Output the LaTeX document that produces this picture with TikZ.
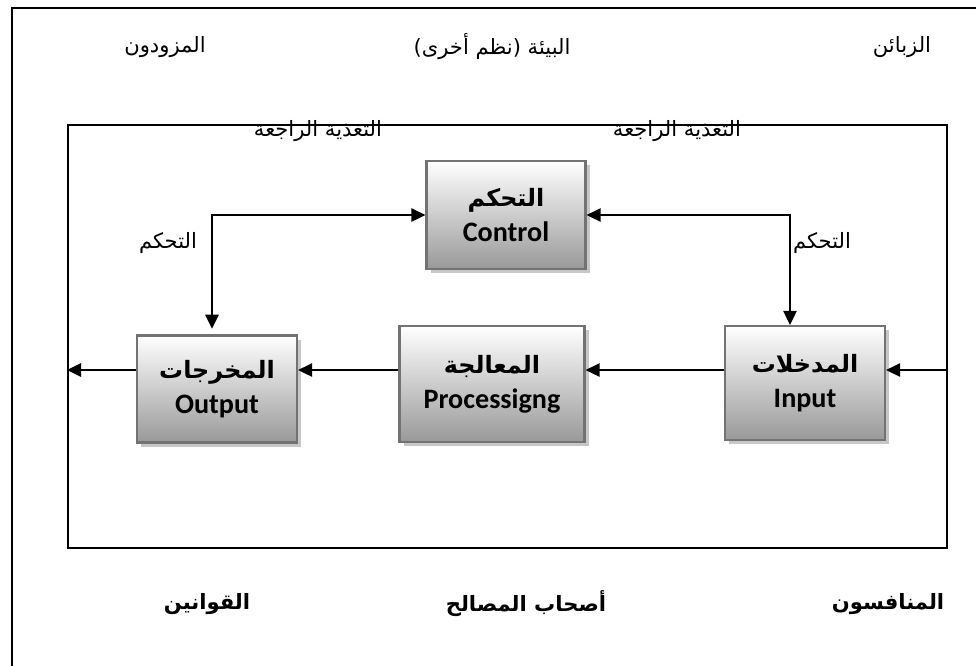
\documentclass[tikz,border=0pt]{standalone}
\usepackage{fontspec}
\setmainfont{Liberation Sans}
\newfontfamily\arabicfont[Script=Arabic]{DejaVu Sans}
\newfontfamily\boxfont{Carlito}
\TeXXeTstate=1
\usetikzlibrary{arrows.meta,shadows}

\begin{document}
\begin{tikzpicture}
[x=0.025cm,y=-0.025cm,
  boxDecorate/.style={draw=black!55,line width=1.6pt,top color=white,bottom color=black!40,
    align=center,inner sep=2pt,font=\fontsize{20}{25}\selectfont\bfseries,
    drop shadow={shadow xshift=3pt,shadow yshift=-3pt,fill=black!22,opacity=1}},
  frameDecorate/.style={draw,line width=1.3pt,inner sep=0pt},
  lineDecorate/.style={-{Triangle[length=10pt,width=9.5pt]},line width=1.4pt},
  bothDecorate/.style={{Triangle[length=10pt,width=9.5pt]}-{Triangle[length=10pt,width=9.5pt]},line width=1.4pt},
  labelDecorate/.style={font=\fontsize{15}{18}\selectfont\arabicfont},
  boldDecorate/.style={font=\fontsize{15}{18}\selectfont\arabicfont\bfseries}]
\useasboundingbox (0,0) rectangle (976,666);
%% frames
\draw[frameDecorate] (12,666) -- (12,8) -- (976,8);
\node (system) at (507.5,336.5) [frameDecorate,minimum width=21.975cm,minimum height=10.575cm] {};
%% blocks
\foreach \nodename/\x/\y/\w/\h/\ar/\en in {
  control/506/215/159/108/التحكم/Control,
  input/805/383/160/114/المدخلات/Input,
  proc/492/384/185/116/المعالجة/Processigng,
  output/217/389/160/107/المخرجات/Output}
{
  \node (\nodename) at (\x,\y) [boxDecorate,minimum width=\w*0.025cm,minimum height=\h*0.025cm]
    {{\arabicfont\fontsize{17}{20}\selectfont\beginR\ar\endR}\\{\boxfont\en}};
}
%% environment labels
\foreach \nodename/\x/\y/\txt in {
  supp/165/47/المزودون, env/492/47/{البيئة (نظم أخرى)}, cust/902/47/الزبائن,
  fbl/318/131/التغذية الراجعة, fbr/677/131/التغذية الراجعة,
  ctll/168/243/التحكم, ctlr/822/243/التحكم}
{
  \node (\nodename) at (\x,\y) [labelDecorate] {\beginR\txt\endR};
}
\foreach \nodename/\x/\y/\txt in {
  laws/207/604/القوانين, stake/526/604/أصحاب المصالح, comp/888/604/المنافسون}
{
  \node (\nodename) at (\x,\y) [boldDecorate] {\beginR\txt\endR};
}
%% flow lines
\coordinate (flow) at (0,370);
\draw[lineDecorate] (system.east |- flow) -- (input.east |- flow);
\draw[lineDecorate] (input.west |- flow) -- (proc.east |- flow);
\draw[lineDecorate] (proc.west |- flow) -- (output.east |- flow);
\draw[lineDecorate] (output.west |- flow) -- (system.west |- flow);
%% control loops
\draw[bothDecorate,shorten >=4pt] (control.west) -| ([xshift=-0.125cm]output.north);
\draw[bothDecorate] (control.east) -| ([xshift=-0.375cm]input.north);
\end{tikzpicture}
\end{document}
